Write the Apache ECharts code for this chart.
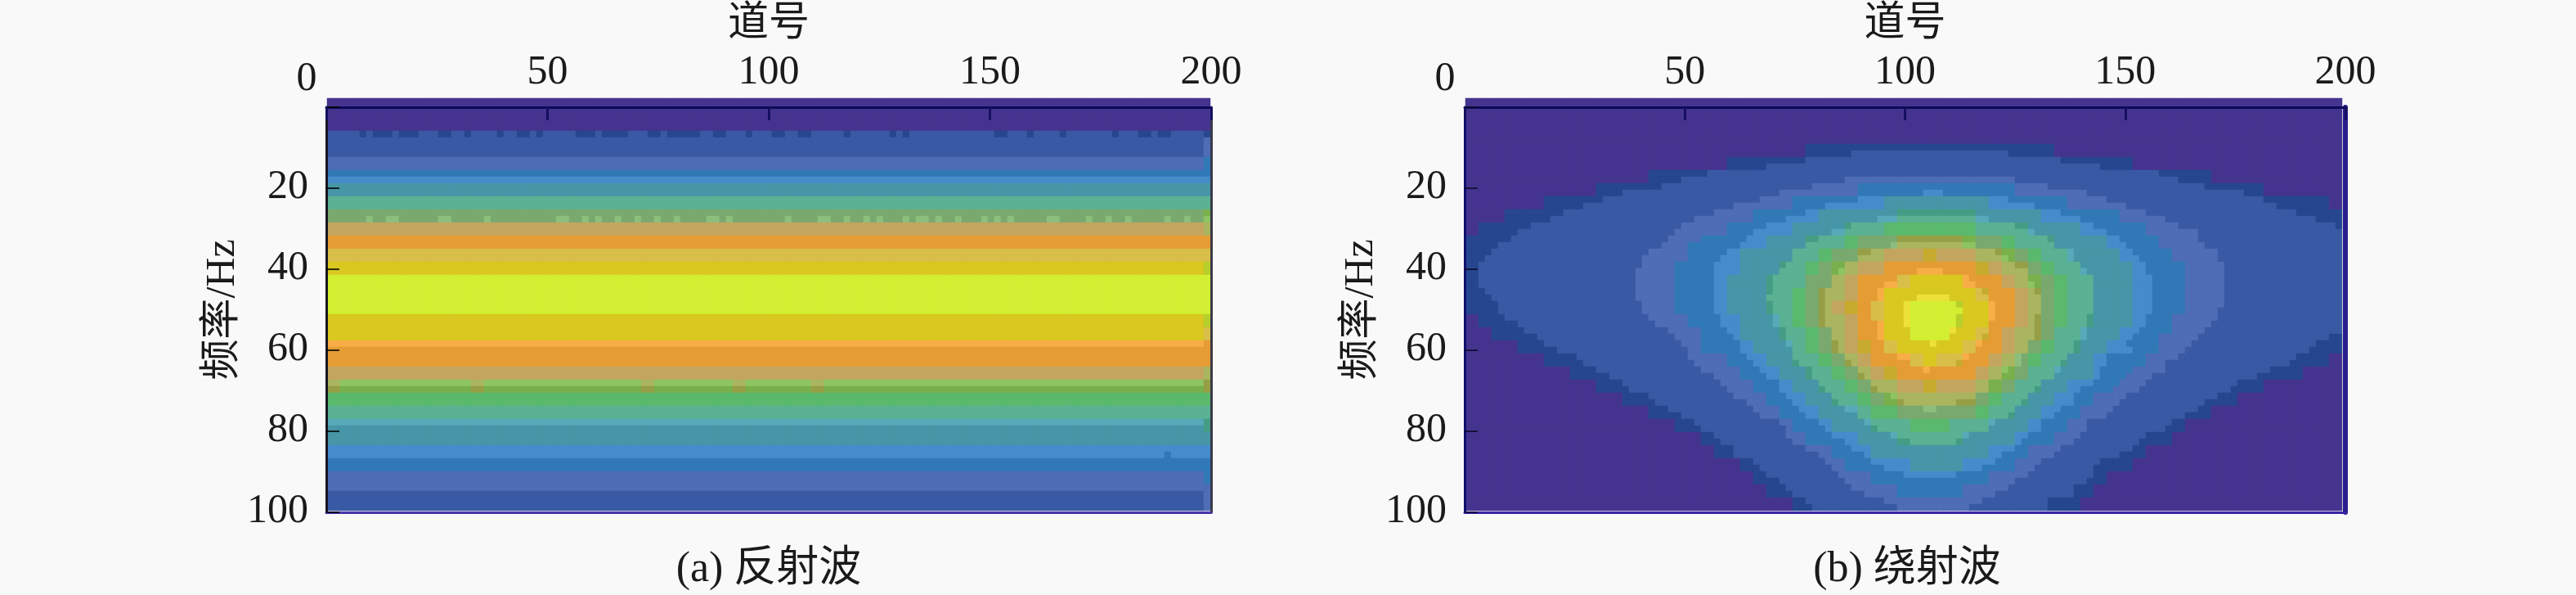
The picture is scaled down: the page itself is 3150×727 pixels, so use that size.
<!DOCTYPE html>
<html><head><meta charset="utf-8">
<style>html,body{margin:0;padding:0;background:#f9f9f9}#c{width:3150px;height:727px}</style>
<script src="https://cdn.jsdelivr.net/npm/echarts@6/dist/echarts.min.js"></script>
</head><body><div id="c"></div>
<script>
// ---- data ----
const levelKeys = 'abcdefghijklmnopqrstuvwxyz'.split('');
const levelColors = ['#45348f','#26478f','#3a59a4','#4f6cb6','#3179b6','#458ccb','#4796a7','#459c84','#5ab193','#5ab96d','#79a96e','#8cc561','#78b04b','#a9b55f','#969f45','#c4a55f','#c6ab2f','#e59c33','#f9ad46','#d8bf4a','#d9c81f','#ede038','#d2ef33','#8cbf7e','#58a9b9','#b7cf2b'];
const xTicks = [50,100,150,200];
const yTicks = [20,40,60,80,100];
const xName = '道号';
const yName = '频率/Hz';
const captionA = '(a) 反射波';
const captionB = '(b) 绕射波';

// reflected wave: level of each row, then the cells that differ from their row
const reflectedCols = 135;
const reflectedRows = 'aaaaa cccc dd e f gg ii kk pp rr tt uu wwwwww uuuu s rrr pp l m jj ii y ggg ff ee ddd ccc';
const reflectedLastCol = 'aaaaa b ddd ee e f gg ii m l nn rr tt zz wwwwww zz tt r rrr nn o o jj ii h hgg ff ee eed ddd';
const reflectedRow5b = [5,7,8,9,11,12,13,17,18,21,26,29,30,32,38,39,40,42,43,44,45,49,50,52,53,54,55,56,59,60,64,68,69,72,73,79,86,88,102,103,107,112,120,124,125,127,128];
const reflectedRow18x = [6,9,10,17,18,24,35,36,39,41,44,47,50,53,58,59,61,70,75,76,79,82,84,88,90,91,93,96,100,102,104,110,111,116,119,122,128,131];
const reflectedRow43n = [0,1,22,23,48,49,62,63,74,75];
const reflectedRow44o = [0,1,22,23,48,49,62,63,74,75];
const reflectedRow54e = [128];

// diffracted wave: each row as runs, letter = level, number = column where the run ends
const diffractedCols = 134;
const diffractedRuns = [
'a134','a134','a134','a134','a134','a134','a134',
'a52 b90 a134',
'a52 b59 c83 b90 a134',
'a40 b52 c91 b102 a134',
'a40 b46 c97 b102 a134',
'a28 b37 c106 b114 a134',
'a28 b33 c58 d84 c109 b114 a134',
'a20 b30 c53 d60 e84 d89 c113 b122 a134',
'a20 b24 c48 d60 e70 f73 e84 d95 c119 b122 a134',
'a12 b21 c45 d50 e60 f64 g80 f83 e92 d98 c122 b132 a134',
'a12 b18 c41 d50 e55 f64 g80 f87 e92 d101 c124 b132 a134',
'a6 b15 c38 d44 e52 f54 g66 h78 g88 f91 e100 d104 c127 b134',
'a6 b13 c35 d44 e49 f54 g63 y66 i78 y80 g88 f94 e100 d107 c130 b134',
'a2 b10 c33 d40 e46 f50 g58 h59 i64 j78 i84 h86 g94 f96 e104 d109 c133 b134',
'a2 b8 c32 d40 e44 f50 g56 y58 i64 j78 i86 y87 g94 f98 e104 d112 c134',
'b7 c31 d36 e43 f46 g52 h54 i58 j60 k66 o76 m78 k82 j84 i89 h90 g98 f100 e106 d112 c134',
'b5 c30 d34 e42 f46 g52 i58 j60 k65 x66 n76 l78 k82 j84 i90 g98 f101 e106 d113 c134',
'b4 c28 d34 e40 f42 g50 i54 j56 k60 o62 n64 p70 q72 p78 n81 o82 m84 k86 j88 i92 y93 g100 f102 e108 d115 c134',
'b3 c27 d34 e39 f42 g50 i54 j56 k60 n64 p70 q72 p78 n82 l83 m84 k86 j88 i92 y93 g100 f103 e108 d115 c134',
'b2 c27 d32 e38 f42 g48 h49 i52 j54 k56 m58 n60 p64 r78 q80 p82 n84 o86 k88 j90 i94 g102 f104 e110 d116 c134',
'b2 c26 d32 e38 f42 g48 i52 j54 k56 m57 l58 n60 p64 r69 s73 r78 q80 p82 n86 k88 j90 i94 y95 g102 f104 e110 d116 c134',
'b2 c26 d32 e38 f40 g46 h47 i52 k56 n58 p60 r66 t68 u76 s77 r82 p84 n86 m88 k90 j92 i96 g102 f105 e110 d116 c134',
'b2 c26 d32 e38 f40 g46 h47 i52 k56 n58 p60 r64 s66 t68 u76 s78 r82 p84 n86 l87 m88 k90 j92 i96 g102 f105 e110 d116 c134',
'b3 c26 d32 e38 f40 g46 h47 i50 j52 k54 o55 n58 p60 r63 s64 u78 t79 q80 r84 p86 n87 o88 k90 j92 i96 g102 f105 e110 d116 c134',
'b4 c26 d32 e38 f40 g46 i50 j52 k54 o55 n58 p60 r63 s64 u69 v74 u78 t80 r84 p86 n88 k90 j92 i96 g102 f105 e110 d116 c134',
'b5 c27 d32 e38 f40 g46 h47 i50 j52 k54 o55 n56 p58 q60 r62 t64 u67 v68 w75 z76 u80 s81 r84 p86 n88 k90 j92 i96 g102 f105 e110 d116 c134',
'b5 c27 d32 e38 f40 g46 h47 i50 j52 k54 o55 n56 p58 q60 r62 t64 u67 v68 w76 u80 s81 r84 p86 n88 k90 j92 i96 g102 f105 e110 d115 c134',
'a2 b6 c28 d34 e39 f42 g47 y48 i50 j52 k54 o55 n58 p60 r62 t64 u67 v68 w75 z76 u80 s81 r84 p86 n87 o88 k90 j92 i95 h96 g102 f104 e108 d115 c134',
'a2 b8 c29 d34 e39 f42 g47 y48 i50 j52 k54 o55 n58 p60 r63 s64 u67 v68 w75 z76 u80 r84 p86 n87 o88 k90 j92 i95 h96 g102 f104 e108 d114 c134',
'a4 b9 c31 d36 e40 f42 g48 h49 i52 j54 k56 n58 p60 r63 s64 u68 w74 v75 u78 t80 r82 p84 n87 o88 k90 i94 y95 g100 f103 e108 d113 c134',
'a4 b11 c32 d36 e41 f42 g48 h49 i52 j54 k56 n58 p60 r63 s64 u68 w74 u78 t79 q80 r82 p84 n87 o88 k90 i94 y95 g100 f102 e106 d112 c132 b134',
'a8 b12 c33 d36 e42 f44 g49 y50 i52 j54 k56 o57 n58 p60 q62 r64 t66 u71 v72 u76 t78 s79 r82 p84 n86 k88 j90 i93 h94 g98 f101 e106 d111 c130 b134',
'a8 b14 c34 d36 e42 f44 g50 i52 j54 k56 o57 n58 p60 q62 r64 t66 u76 t78 r82 p84 n86 k88 j90 i93 h94 g98 f102 e106 d110 c129 b134',
'a12 b17 c34 d40 e43 f46 g50 i54 j56 k58 n60 p62 r66 s68 t70 u72 t76 s77 r80 p82 n84 x85 k86 j88 i92 g96 f98 e104 d109 c127 b132 a134',
'a12 b18 c35 d40 e44 f46 g50 h51 i54 j56 k58 o59 n60 p62 r68 t70 u72 t75 q76 r80 p82 n84 x85 k86 j88 i91 h92 g96 f98 e104 d107 c126 b132 a134',
'a16 b20 c36 d42 e45 f48 g52 h53 i56 j58 k60 n62 p64 q66 r70 s71 r78 p80 n82 l83 m84 k86 i90 y91 g96 f97 e102 d107 c123 b128 a134',
'a16 b22 c38 d42 e46 f48 g52 h53 i56 j58 k60 o61 n62 p64 q66 r78 p80 n82 m84 k86 i90 g96 f97 e101 d105 c121 b128 a134',
'a20 b24 c39 d44 e48 f50 g54 i58 j60 k62 n66 p70 q72 p78 n80 m82 k84 i88 g92 f96 e100 d104 c118 b122 a134',
'a20 b25 c40 d44 e48 f50 g54 h55 i58 j60 k62 o63 n66 p70 q72 p78 n80 m82 k84 i87 h88 g92 f94 e99 d103 c117 b122 a134',
'a24 b28 c41 d46 e49 f52 g56 i60 j62 k64 m65 l66 n78 k80 j82 i86 g90 f93 e96 d101 c115 b118 a134',
'a24 b29 c43 d46 e50 f52 g56 h57 i60 j62 k64 m66 o67 n75 o78 k80 j82 i85 h86 g90 f93 e96 d100 c113 b118 a134',
'a28 b31 c44 d48 e51 f54 g58 y60 i62 j66 k70 x72 k78 j80 i84 g88 f91 e94 d99 c112 b114 a134',
'a28 b33 c45 d48 e52 f54 g60 i62 j66 k78 j80 i83 h84 g88 f90 e94 d98 c110 b114 a134',
'a32 b35 c48 d50 e54 f56 g61 y62 i68 j74 i80 y81 g86 f88 e92 d95 c108 b110 a134',
'a32 b36 c49 d50 e55 f56 g62 h63 i68 j74 i80 g86 f88 e92 d95 c107 b110 a134',
'a36 b38 c49 d52 e56 f60 g65 y66 i76 y77 g84 f86 e90 d94 c104 b108 a134',
'a36 b39 c50 d52 e58 f60 g66 h68 i75 h76 g84 f85 e90 d93 c103 b108 a134',
'a38 b41 c52 d56 e59 f62 g80 f84 e86 d91 c102 b104 a134',
'a38 b41 c54 d56 e61 f62 g80 f82 e86 d90 c100 b104 a134',
'a42 b44 c55 d58 e62 f68 g76 f81 e84 d88 c97 b102 a134',
'a42 b45 c56 d58 e64 f68 g76 f79 e84 d87 c96 b102 a134',
'a44 b46 c57 d62 e67 f75 e80 d86 c96 b98 a134',
'a44 b48 c58 d62 e80 d84 c95 b98 a134',
'a46 b49 c59 d66 e76 d83 c93 b96 a134',
'a46 b50 c61 d66 e76 d81 c93 b96 a134',
'a50 b52 c64 d79 c89 b94 a134',
'a50 b53 c66 d77 c89 b94 a134'
];

// ---- building the library's series data ----
const lv = k => levelKeys.indexOf(k);
const reflectedLevels = reflectedRows.replace(/ /g,'').split('');
const reflectedEdge = reflectedLastCol.replace(/ /g,'').split('');
const reflectedData = [];
reflectedLevels.forEach((k,r)=>{
  for(let c=0;c<reflectedCols;c++){
    let v = lv(k);
    if(r===5 && reflectedRow5b.includes(c)) v=lv('b');
    if(r===18 && reflectedRow18x.includes(c)) v=lv('x');
    if(r===43 && reflectedRow43n.includes(c)) v=lv('n');
    if(r===44 && reflectedRow44o.includes(c)) v=lv('o');
    if(r===54 && reflectedRow54e.includes(c)) v=lv('e');
    if(c===reflectedCols-1) v=lv(reflectedEdge[r]);
    reflectedData.push([c,r,v]);
  }
});
const diffractedData = [];
diffractedRuns.forEach((line,r)=>{
  let c=0;
  line.split(' ').forEach(tok=>{
    const v=lv(tok[0]), end=+tok.slice(1);
    for(;c<end;c++) diffractedData.push([c,r,v]);
  });
});
const idx = n => Array.from({length:n},(_,i)=>i);

// ---- layout ----
const FONT = '"Liberation Serif","Noto Sans CJK SC",serif';
const TXT = '#1a1a1a';
const LS = 50;
const panels = [
 {heat:{left:400,top:120,width:1080,height:504}, frame:{left:399,top:119,width:1082,height:507}, cols:reflectedCols, data:reflectedData,
  top:'#0c0a5a', left:'#161620', right:'#3a3a48', rightW:3, bottom:'#4a34a8', tick:'#14105f', ytick:'rgba(0,0,0,0.78)', yGap:100},
 {heat:{left:1792,top:120,width:1072,height:504}, frame:{left:1791,top:119,width:1077,height:507}, cols:diffractedCols, data:diffractedData,
  top:'#0c0a5a', left:'#10106a', right:'#2a1e8a', rightW:6, bottom:'#3a25a8', tick:'#14105f', ytick:'rgba(10,10,40,0.78)', yGap:100}
];
const grid=[], xAxis=[], yAxis=[], series=[];
panels.forEach((p,i)=>{
  const g0=grid.length;
  grid.push(Object.assign({containLabel:false},p.heat));
  grid.push(Object.assign({containLabel:false},p.frame));
  const x0=xAxis.length, y0=yAxis.length;
  xAxis.push({gridIndex:g0,type:'category',show:false,data:idx(p.cols)});
  yAxis.push({gridIndex:g0,type:'category',show:false,inverse:true,data:idx(diffractedRuns.length)});
  xAxis.push({gridIndex:g0+1,type:'value',position:'top',min:0,max:200,interval:xTicks[0],z:6,
    name:xName,nameLocation:'middle',nameGap:76,
    nameTextStyle:{fontFamily:FONT,fontSize:LS,color:TXT},
    axisLine:{show:true,onZero:false,lineStyle:{color:p.top,width:3}},
    axisTick:{show:true,inside:true,length:16,lineStyle:{color:p.tick,width:3}},
    splitLine:{show:false},
    axisLabel:{show:true,margin:17,fontFamily:FONT,fontSize:LS,color:TXT,formatter:v=>v===0?'':String(v)}});
  xAxis.push({gridIndex:g0+1,type:'value',position:'bottom',min:0,max:200,interval:xTicks[0],z:6,
    axisLine:{show:true,onZero:false,lineStyle:{color:p.bottom,width:3}},
    axisTick:{show:false},axisLabel:{show:false},splitLine:{show:false}});
  yAxis.push({gridIndex:g0+1,type:'value',position:'left',inverse:true,min:0,max:100,interval:yTicks[0],z:6,
    name:yName,nameLocation:'middle',nameGap:p.yGap,
    nameTextStyle:{fontFamily:FONT,fontSize:LS,color:TXT},
    axisLine:{show:true,onZero:false,lineStyle:{color:p.left,width:3}},
    axisTick:{show:true,inside:true,length:16,lineStyle:{color:p.ytick,width:2}},
    splitLine:{show:false},
    axisLabel:{show:true,margin:22,verticalAlign:'bottom',lineHeight:2,fontFamily:FONT,fontSize:LS,color:TXT,formatter:v=>v===0?'':String(v)}});
  yAxis.push({gridIndex:g0+1,type:'value',position:'right',inverse:true,min:0,max:100,interval:yTicks[0],z:6,
    axisLine:{show:true,onZero:false,lineStyle:{color:p.right,width:p.rightW}},
    axisTick:{show:false},axisLabel:{show:false},splitLine:{show:false}});
  series.push({type:'heatmap',xAxisIndex:x0,yAxisIndex:y0,data:p.data,silent:true,progressive:0,
    itemStyle:{borderWidth:0},emphasis:{disabled:true}});
});
const text=(x,y,t,size)=>({type:'text',x,y,silent:true,style:{text:t,fontFamily:FONT,fontSize:size,fill:TXT,textAlign:'center',textVerticalAlign:'middle'}});
const chart=echarts.init(document.getElementById('c'),null,{renderer:'canvas'});
chart.setOption({
  animation:false,backgroundColor:'#f9f9f9',
  grid,xAxis,yAxis,series,
  visualMap:{type:'piecewise',show:false,dimension:2,seriesIndex:[0,1],
    pieces:levelColors.map((color,value)=>({value,color}))},
  graphic:[text(375,97,'0',LS),text(1767,97,'0',LS),text(940,696,captionA,52),text(2332,696,captionB,52)]
});
</script></body></html>
